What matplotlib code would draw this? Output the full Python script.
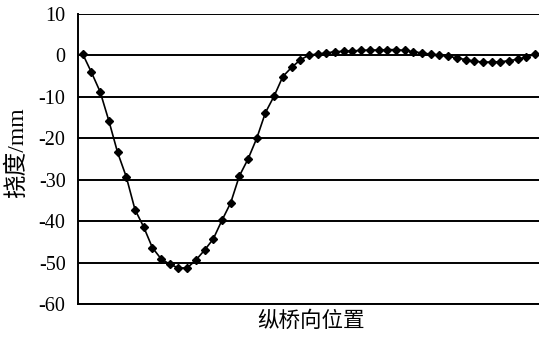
import matplotlib
matplotlib.use("Agg")
import matplotlib.pyplot as plt
import numpy as np

plt.rcParams["axes.unicode_minus"] = False

# Deflection along the bridge (mm), one value per measuring point
deflection = [
    0.3, -4.1, -8.8, -15.8, -23.4, -29.3, -37.2, -41.4, -46.4, -49.1,
    -50.4, -51.3, -51.3, -49.4, -47.0, -44.3, -39.8, -35.6, -29.1, -25.0,
    -20.0, -13.8, -9.8, -5.1, -2.9, -1.1, 0.1, 0.3, 0.6, 0.9,
    1.0, 1.1, 1.2, 1.3, 1.3, 1.4, 1.4, 1.2, 0.9, 0.6,
    0.3, 0.1, -0.2, -0.6, -1.0, -1.4, -1.6, -1.6, -1.5, -1.3,
    -0.9, -0.4, 0.3,
]
positions = np.arange(len(deflection))
y_ticks = [10, 0, -10, -20, -30, -40, -50, -60]

fig = plt.figure(figsize=(5.39, 3.38), dpi=100)
ax = fig.add_axes([78 / 539, 1 - 304 / 338, (539 - 78) / 539, (304 - 14) / 338])

# horizontal grid lines
for t in y_ticks:
    ax.axhline(t, color="black", lw=1.4, zorder=1)

ax.plot(positions, deflection, color="black", lw=1.2, marker="D",
        markersize=4.4, markerfacecolor="black", markeredgecolor="black",
        zorder=3, clip_on=False)

ax.set_xlim(-0.55, 52.45)
ax.set_ylim(-60, 10)
ax.set_yticks(y_ticks)
ax.set_yticklabels([str(t) for t in y_ticks], family="Liberation Serif", fontsize=14.5)
ax.tick_params(axis="y", length=0, pad=9)
ax.set_xticks([])

for side in ["top", "right"]:
    ax.spines[side].set_visible(False)
ax.spines["left"].set_linewidth(1.4)
ax.spines["bottom"].set_linewidth(1.4)

fig.text(17 / 539, 1 - 153 / 338, "挠度/mm", rotation=90, ha="center", va="center",
         family=["Liberation Serif", "Noto Sans CJK SC"], fontsize=17)
fig.text(311 / 539, 1 - 321 / 338, "纵桥向位置", ha="center", va="center",
         family=["Noto Sans CJK SC"], fontsize=15.5)

fig.savefig("out.png", dpi=100, facecolor="white")
